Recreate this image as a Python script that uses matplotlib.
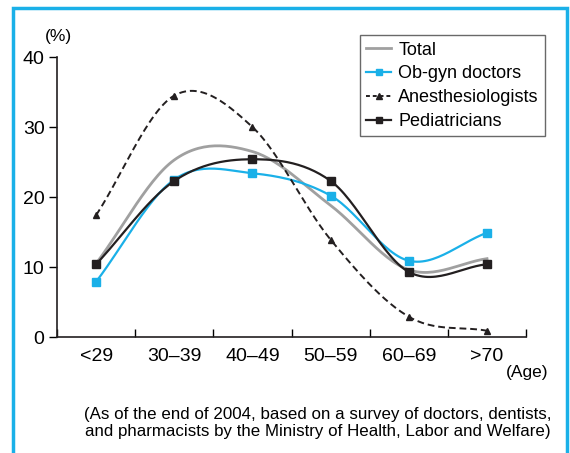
import numpy as np
import matplotlib
matplotlib.use('Agg')
import matplotlib.pyplot as plt
from matplotlib.patches import Rectangle
from matplotlib.lines import Line2D

plt.rcParams['font.family'] = ['Liberation Sans', 'DejaVu Sans']

ages = ['<29', '30\u201339', '40\u201349', '50\u201359', '60\u201369', '>70']
total = [10.5, 25.3, 26.5, 18.8, 9.6, 11.2]
obgyn = [7.9, 22.5, 23.4, 20.2, 10.9, 14.9]
anesth = [17.4, 34.5, 30.0, 13.9, 2.9, 0.9]
pediatr = [10.4, 22.3, 25.4, 22.3, 9.3, 10.4]


def smooth(x, y, n=30):
    # catmull-rom through the points, like a spreadsheet "smoothed line"
    x = np.asarray(x, float)
    y = np.asarray(y, float)
    px = np.concatenate([[2 * x[0] - x[1]], x, [2 * x[-1] - x[-2]]])
    py = np.concatenate([[2 * y[0] - y[1]], y, [2 * y[-1] - y[-2]]])
    xs, ys = [], []
    t = np.linspace(0, 1, n)
    for i in range(1, len(px) - 2):
        for p, out in ((px, xs), (py, ys)):
            p0, p1, p2, p3 = p[i - 1], p[i], p[i + 1], p[i + 2]
            out.append(0.5 * (2 * p1 + (-p0 + p2) * t
                              + (2 * p0 - 5 * p1 + 4 * p2 - p3) * t ** 2
                              + (-p0 + 3 * p1 - 3 * p2 + p3) * t ** 3))
    return np.concatenate(xs), np.concatenate(ys)


fig = plt.figure(figsize=(5.7, 4.53), dpi=100)
ax = fig.add_axes([0.1, 0.256, 0.823, 0.618])

x = np.arange(len(ages)) + 0.5
blue = '#1ab0e8'
dark = '#231f20'

sx, sy = smooth(x, total)
ax.plot(sx, sy, color='#a0a0a0', lw=2)
sx, sy = smooth(x, obgyn)
ax.plot(sx, sy, color=blue, lw=1.6)
ax.plot(x, obgyn, 's', color=blue, ms=6)
sx, sy = smooth(x, anesth)
ax.plot(sx, sy, color=dark, lw=1.4, ls=(0, (3.5, 2)))
ax.plot(x, anesth, '^', color=dark, ms=5)
sx, sy = smooth(x, pediatr)
ax.plot(sx, sy, color=dark, lw=1.6)
ax.plot(x, pediatr, 's', color=dark, ms=6)

handles = [Line2D([], [], color='#a0a0a0', lw=2),
           Line2D([], [], color=blue, lw=1.6, marker='s', ms=5),
           Line2D([], [], color=dark, lw=1.4, ls=(0, (2, 1.5)), marker='^', ms=4),
           Line2D([], [], color=dark, lw=1.6, marker='s', ms=5)]
leg = ax.legend(handles, ['Total', 'Ob-gyn doctors', 'Anesthesiologists', 'Pediatricians'],
                loc='upper left', bbox_to_anchor=(0.645, 1.078), fontsize=13,
                frameon=True, fancybox=False, handlelength=1.4, handletextpad=0.4,
                labelspacing=0.38, borderpad=0.35, borderaxespad=0)
leg.get_frame().set_edgecolor('#444444')
leg.get_frame().set_linewidth(1)

ax.set_xlim(0, 6)
ax.set_ylim(0, 40)
ax.set_yticks([0, 10, 20, 30, 40])
ax.set_xticks(np.arange(7))
ax.set_xticklabels([])
ax.set_xticks(x, minor=True)
ax.set_xticklabels(ages, minor=True)
ax.tick_params(axis='x', which='major', direction='in', length=6, width=1)
ax.tick_params(axis='x', which='minor', length=0, pad=8, labelsize=14)
ax.tick_params(axis='y', direction='out', length=6, width=1, labelsize=14, pad=3)
for s in ['top', 'right']:
    ax.spines[s].set_visible(False)
for s in ['left', 'bottom']:
    ax.spines[s].set_linewidth(1.2)
    ax.spines[s].set_color(dark)

fig.text(58 / 570, 1 - 36 / 453, '(%)', fontsize=12.5, ha='center', va='center')
fig.text(527 / 570, 1 - 372 / 453, '(Age)', fontsize=12.5, ha='center', va='center')
fig.text(551 / 570, 1 - 423 / 453,
         '(As of the end of 2004, based on a survey of doctors, dentists,\n'
         'and pharmacists by the Ministry of Health, Labor and Welfare)',
         fontsize=12.2, ha='right', va='center', multialignment='right', linespacing=1.2)

fig.patches.append(Rectangle((13 / 570, -0.05), 554 / 570, 1 - 8 / 453 + 0.05,
                             transform=fig.transFigure, fill=False,
                             edgecolor=blue, lw=2.5, clip_on=False))

fig.savefig('out.png', dpi=100)
